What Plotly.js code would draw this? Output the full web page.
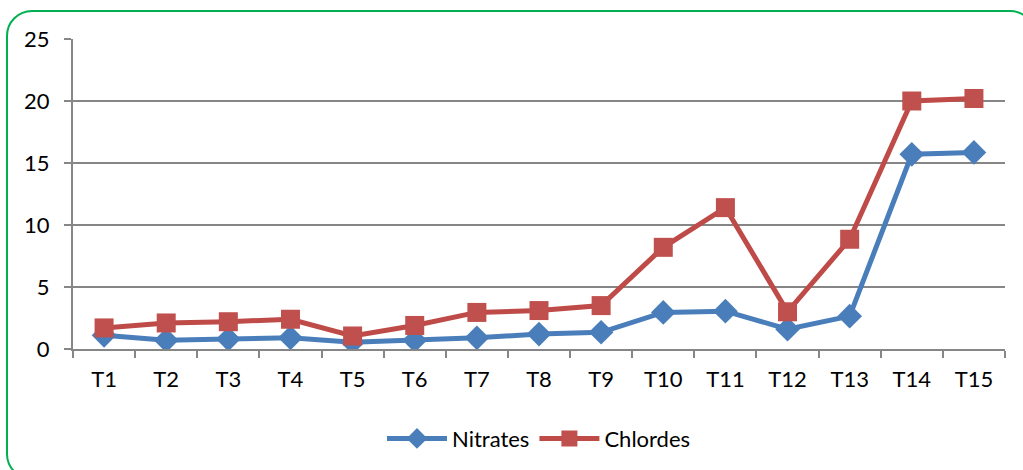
<!DOCTYPE html>
<html>
<head>
<meta charset="utf-8">
<script src="https://cdn.plot.ly/plotly-3.0.1.min.js"></script>
<style>
  html, body { margin: 0; padding: 0; background: #fff; overflow: hidden; }
  #frame {
    position: absolute; left: 6px; top: 10px; width: 1030px; height: 470px;
    border: 2px solid #00B050; border-radius: 26px; box-sizing: border-box;
  }
  #chart { position: absolute; left: 0; top: 0; width: 1023px; height: 470px; }
</style>
</head>
<body>
<div id="frame"></div>
<div id="chart"></div>
<script>
// Sampling points
const stations = ["T1","T2","T3","T4","T5","T6","T7","T8","T9","T10","T11","T12","T13","T14","T15"];
// Measured concentrations
const nitrates = [1.1, 0.7, 0.8, 0.9, 0.55, 0.7, 0.9, 1.2, 1.35, 2.95, 3.05, 1.6, 2.65, 15.7, 15.85];
const chlorides = [1.7, 2.1, 2.2, 2.4, 1.05, 1.9, 2.95, 3.1, 3.5, 8.2, 11.4, 3.0, 8.85, 20.0, 20.2];
const yTicks = [0, 5, 10, 15, 20, 25];

const font = { family: "Lato, 'Open Sans', sans-serif", size: 22, color: "#000" };

const traces = [
  {
    x: stations, y: nitrates, name: "Nitrates", type: "scatter", mode: "lines+markers",
    line: { color: "#4A7EBB", width: 5 },
    marker: { symbol: "diamond", size: 19, color: "#4A7EBB" }
  },
  {
    x: stations, y: chlorides, name: "Chlordes", type: "scatter", mode: "lines+markers",
    line: { color: "#BE4B48", width: 5 },
    marker: { symbol: "square", size: 19, color: "#C0504D" }
  }
];

const layout = {
  width: 1023, height: 470,
  margin: { l: 73, r: 18, t: 39, b: 120 },
  paper_bgcolor: "rgba(0,0,0,0)", plot_bgcolor: "rgba(0,0,0,0)",
  font: font,
  showlegend: true,
  legend: {
    orientation: "h", x: 0.5, xanchor: "center", y: -0.285, yanchor: "middle",
    font: font, itemwidth: 60
  },
  xaxis: {
    type: "category", range: [-0.5, 14.5], tickson: "boundaries",
    showline: true, linecolor: "#868686", linewidth: 2,
    ticks: "outside", ticklen: 7, tickcolor: "#868686", tickwidth: 2,
    showgrid: false, zeroline: false, tickfont: font, ticklabelstandoff: 10
  },
  yaxis: {
    range: [0, 25], tickvals: yTicks, ticktext: yTicks.map(String),
    showline: true, linecolor: "#868686", linewidth: 2,
    ticks: "outside", ticklen: 7, tickcolor: "#868686", tickwidth: 2,
    showgrid: true, gridcolor: "#868686", gridwidth: 2,
    zeroline: false, tickfont: font, ticklabelstandoff: 10
  }
};

Plotly.newPlot("chart", traces, layout, { staticPlot: true });
</script>
</body>
</html>
